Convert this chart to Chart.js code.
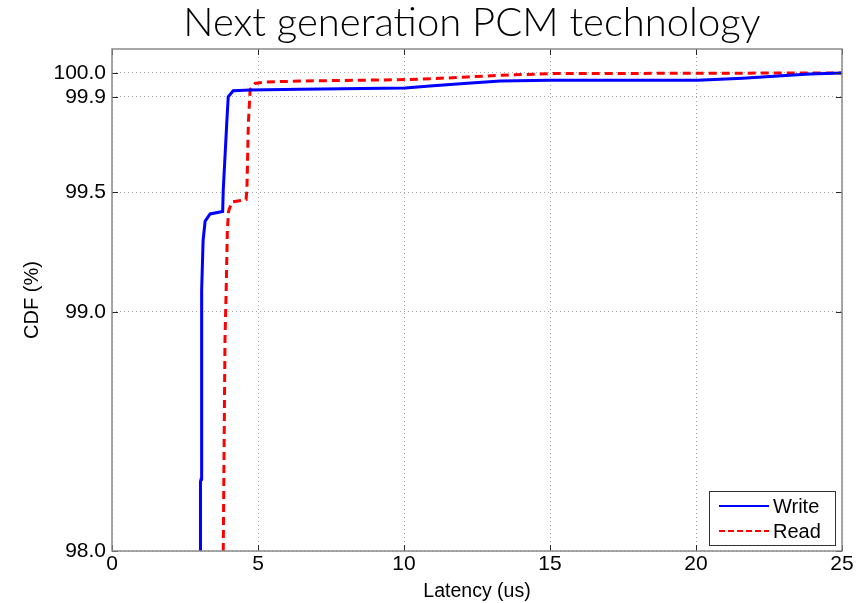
<!DOCTYPE html>
<html>
<head>
<meta charset="utf-8">
<title>Next generation PCM technology</title>
<script src="https://cdn.jsdelivr.net/npm/chart.js@4/dist/chart.umd.min.js"></script>
<style>
  html, body { margin: 0; padding: 0; background: #fff; }
  #wrap { width: 864px; height: 603px; }
</style>
</head>
<body>
<div id="wrap"><canvas id="cdfChart" width="864" height="603"></canvas></div>
<script>
// Latency (us) vs CDF (%)
const writeX = [3.03, 3.03, 3.05, 3.07, 3.12, 3.19, 3.36, 3.79, 3.81, 3.93, 3.98, 4.15, 4.73, 6.44, 10.04, 11.0, 12.17, 13.3, 15.0, 20.05, 21.6, 22.8, 23.9, 25];
const writeY = [98.0, 98.29, 98.3, 99.09, 99.30, 99.38, 99.41, 99.42, 99.51, 99.79, 99.90, 99.925, 99.928, 99.932, 99.937, 99.946, 99.957, 99.966, 99.969, 99.969, 99.978, 99.987, 99.995, 100.0];

const readX = [3.81, 3.87, 3.91, 3.95, 3.99, 4.10, 4.59, 4.62, 4.67, 4.73, 4.90, 5.30, 6.44, 10.04, 11.0, 12.17, 13.3, 15.0, 25];
const readY = [98.0, 98.89, 99.09, 99.34, 99.42, 99.46, 99.47, 99.51, 99.79, 99.93, 99.956, 99.962, 99.966, 99.972, 99.976, 99.983, 99.99, 99.997, 100.0];

const xTicks = [0, 5, 10, 15, 20, 25];
const yTicks = [98.0, 99.0, 99.5, 99.9, 100.0];

const seriesNames = ["Write", "Read"];
const seriesColors = ["#0000FF", "#FF0000"];

const chartTitle = "Next generation PCM technology";
const tickFont = "'Liberation Sans', Arial, sans-serif";

function toPoints(xs, ys) {
    return xs.map((x, i) => ({ x: x, y: ys[i] }));
}

// title over the axes, box round the plot, inward tick marks, legend inside
const matlabFrame = {
    id: "matlabFrame",
    afterDraw(chart) {
        const ctx = chart.ctx;
        const a = chart.chartArea;
        const xs = chart.scales.x;
        const ys = chart.scales.y;

        ctx.save();
        ctx.fillStyle = "#000";
        ctx.font = "300 40px Lato, 'Open Sans', sans-serif";
        ctx.textAlign = "center";
        ctx.textBaseline = "middle";
        ctx.fillText(chartTitle, (a.left + a.right) / 2 - 5, 23);

        ctx.strokeStyle = "#262626";
        ctx.lineWidth = 1;
        xTicks.forEach(v => {
            const px = Math.round(xs.getPixelForValue(v)) + 0.5;
            ctx.beginPath();
            ctx.moveTo(px, a.bottom); ctx.lineTo(px, a.bottom - 6);
            ctx.moveTo(px, a.top); ctx.lineTo(px, a.top + 6);
            ctx.stroke();
        });
        yTicks.forEach(v => {
            const py = Math.round(ys.getPixelForValue(v)) + 0.5;
            ctx.beginPath();
            ctx.moveTo(a.left, py); ctx.lineTo(a.left + 6, py);
            ctx.moveTo(a.right, py); ctx.lineTo(a.right - 6, py);
            ctx.stroke();
        });

        ctx.strokeStyle = "#8a8a8a";
        ctx.lineWidth = 1.5;
        ctx.strokeRect(a.left, a.top, a.right - a.left, a.bottom - a.top);

        // legend
        const w = 126, h = 54;
        const lx = a.right - 7 - w;
        const ly = a.bottom - 6 - h;
        ctx.fillStyle = "#fff";
        ctx.fillRect(lx, ly, w, h);
        ctx.strokeStyle = "#333";
        ctx.lineWidth = 1;
        ctx.strokeRect(lx + 0.5, ly + 0.5, w, h);

        ctx.font = "20px " + tickFont;
        ctx.textBaseline = "middle";
        ctx.textAlign = "left";
        seriesNames.forEach((name, i) => {
            const rowY = ly + 15 + i * 25;
            ctx.strokeStyle = seriesColors[i];
            ctx.lineWidth = 2;
            ctx.setLineDash(i === 1 ? [6, 3] : []);
            ctx.beginPath();
            ctx.moveTo(lx + 10, rowY); ctx.lineTo(lx + 60, rowY);
            ctx.stroke();
            ctx.setLineDash([]);
            ctx.fillStyle = "#000";
            ctx.fillText(name, lx + 64, rowY + 1);
        });
        ctx.restore();
    }
};

const ctx = document.getElementById("cdfChart").getContext("2d");
new Chart(ctx, {
    type: "line",
    data: {
        datasets: [{
            label: seriesNames[0],
            data: toPoints(writeX, writeY),
            borderColor: seriesColors[0],
            borderWidth: 3,
            pointRadius: 0,
            tension: 0
        }, {
            label: seriesNames[1],
            data: toPoints(readX, readY),
            borderColor: seriesColors[1],
            borderWidth: 3,
            borderDash: [8, 5],
            pointRadius: 0,
            tension: 0
        }]
    },
    options: {
        responsive: false,
        animation: false,
        layout: { padding: { left: 0, right: 22, top: 49, bottom: 0 } },
        plugins: {
            legend: { display: false },
            tooltip: { enabled: false },
            title: { display: false }
        },
        scales: {
            x: {
                type: "linear",
                min: 0,
                max: 25,
                afterBuildTicks: scale => { scale.ticks = xTicks.map(v => ({ value: v })); },
                afterFit: scale => { scale.height = 52; },
                border: { display: false, dash: [1, 3] },
                grid: {
                    color: "#a8a8a8",
                    lineWidth: 1,
                    drawTicks: false
                },
                ticks: {
                    color: "#000",
                    padding: 1,
                    maxRotation: 0,
                    font: { family: tickFont, size: 21 }
                },
                title: {
                    display: true,
                    text: "Latency (us)",
                    color: "#000",
                    font: { family: tickFont, size: 19.5 },
                    padding: { top: 0, bottom: 0 }
                }
            },
            y: {
                type: "linear",
                min: 98,
                max: 100.1,
                afterBuildTicks: scale => { scale.ticks = yTicks.map(v => ({ value: v })); },
                afterFit: scale => { scale.width = 112; },
                border: { display: false, dash: [1, 3] },
                grid: {
                    color: "#a8a8a8",
                    lineWidth: 1,
                    drawTicks: false
                },
                ticks: {
                    color: "#000",
                    padding: 6,
                    callback: v => Number(v).toFixed(1),
                    font: { family: tickFont, size: 21 }
                },
                title: {
                    display: true,
                    text: "CDF (%)",
                    color: "#000",
                    font: { family: tickFont, size: 20 },
                    padding: { top: 20, bottom: 0 }
                }
            }
        }
    },
    plugins: [matlabFrame]
});
</script>
</body>
</html>
